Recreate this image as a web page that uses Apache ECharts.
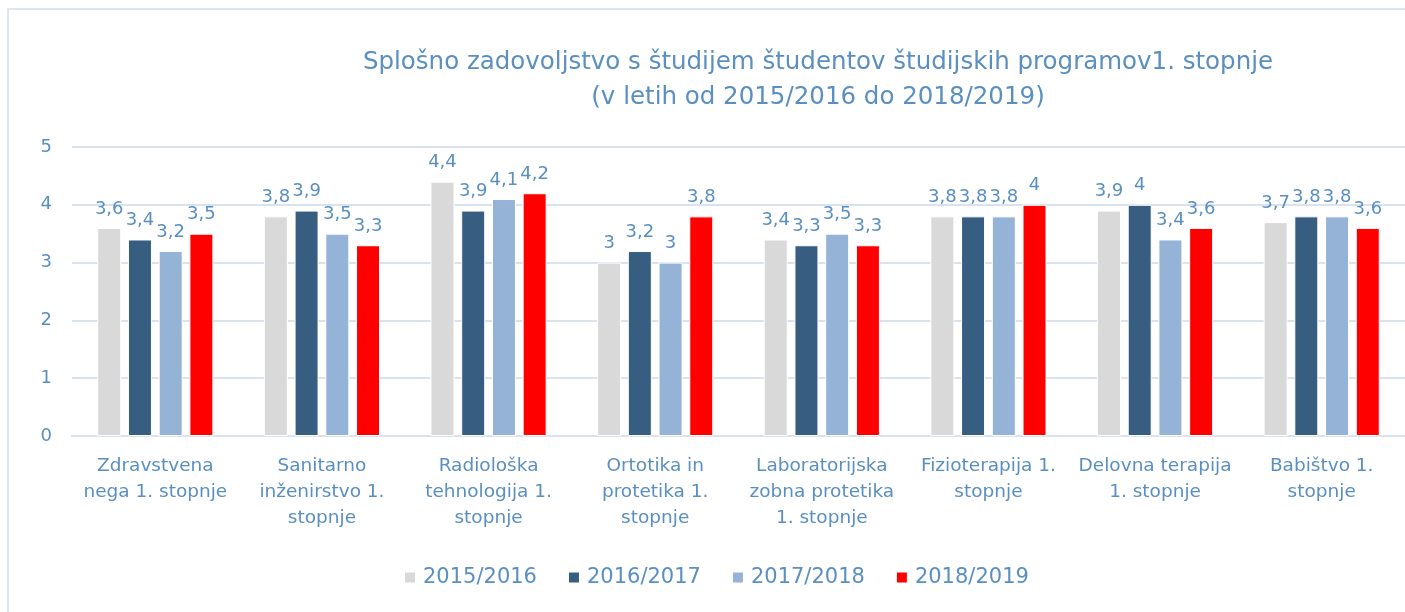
<!DOCTYPE html>
<html>
<head>
<meta charset="utf-8">
<script src="https://cdn.jsdelivr.net/npm/echarts@6/dist/echarts.min.js"></script>
<style>
  html, body { margin: 0; padding: 0; background: #fff; }
  #chart { width: 1405px; height: 612px; }
</style>
</head>
<body>
<div id="chart"></div>
<script>
const categories = [
  "Zdravstvena\nnega 1. stopnje",
  "Sanitarno\ninženirstvo 1.\nstopnje",
  "Radiološka\ntehnologija 1.\nstopnje",
  "Ortotika in\nprotetika 1.\nstopnje",
  "Laboratorijska\nzobna protetika\n1. stopnje",
  "Fizioterapija 1.\nstopnje",
  "Delovna terapija\n1. stopnje",
  "Babištvo 1.\nstopnje",
];
const years = ["2015/2016", "2016/2017", "2017/2018", "2018/2019"];
const y2015 = [3.6, 3.8, 4.4, 3.0, 3.4, 3.8, 3.9, 3.7];
const y2016 = [3.4, 3.9, 3.9, 3.2, 3.3, 3.8, 4.0, 3.8];
const y2017 = [3.2, 3.5, 4.1, 3.0, 3.5, 3.8, 3.4, 3.8];
const y2018 = [3.5, 3.3, 4.2, 3.8, 3.3, 4.0, 3.6, 3.6];

const colors = ["#d9d9d9", "#375d81", "#95b3d7", "#ff0000"];
const textColor = "#5a8fc2";
const font = "'DejaVu Sans', sans-serif";

const chart = echarts.init(document.getElementById("chart"));

const makeSeries = (name, data, i) => ({
  name,
  type: "bar",
  data,
  barWidth: 24,
  barGap: "28%",
  itemStyle: { color: colors[i], borderColor: "#fff", borderWidth: 1 },
  label: {
    show: true,
    position: "top",
    distance: 10,
    color: textColor,
    fontSize: 18,
    fontFamily: font,
    formatter: (p) => String(p.value).replace(".", ","),
  },
});

const option = {
  animation: false,
  color: colors,
  graphic: [
    {
      type: "rect",
      shape: { x: 8, y: 9, width: 1420, height: 620 },
      style: { fill: "none", stroke: "#dce6f0", lineWidth: 2 },
      silent: true,
    },
  ],
  title: {
    text: "Splošno zadovoljstvo s študijem študentov študijskih programov1. stopnje\n(v letih od 2015/2016 do 2018/2019)",
    left: 813,
    top: 40,
    textAlign: "center",
    textStyle: {
      color: textColor,
      fontSize: 24.5,
      fontWeight: "normal",
      fontFamily: font,
      lineHeight: 35,
    },
  },
  legend: {
    data: years,
    bottom: 19,
    left: 398,
    itemWidth: 12,
    itemHeight: 12,
    itemGap: 30,
    icon: "rect",
    textStyle: { color: textColor, fontSize: 21, fontFamily: font, padding: [0, 0, 0, 2] },
  },
  grid: {
    left: 72,
    top: 147,
    width: 1336,
    height: 289,
    containLabel: false,
  },
  xAxis: {
    type: "category",
    data: categories,
    axisLine: { lineStyle: { color: "#d9e3ee", width: 2 } },
    axisTick: { show: false },
    axisLabel: {
      color: textColor,
      fontSize: 18.5,
      fontFamily: font,
      lineHeight: 26,
      margin: 17,
      interval: 0,
    },
  },
  yAxis: {
    type: "value",
    min: 0,
    max: 5,
    interval: 1,
    axisLine: { show: false },
    axisTick: { show: false },
    splitLine: { lineStyle: { color: "#d9e3ee", width: 2 } },
    axisLabel: { color: textColor, fontSize: 18, fontFamily: font, margin: 20 },
  },
  series: [
    makeSeries(years[0], y2015, 0),
    makeSeries(years[1], y2016, 1),
    makeSeries(years[2], y2017, 2),
    makeSeries(years[3], y2018, 3),
  ],
};

chart.setOption(option);
window.addEventListener("resize", () => chart.resize());
</script>
</body>
</html>
